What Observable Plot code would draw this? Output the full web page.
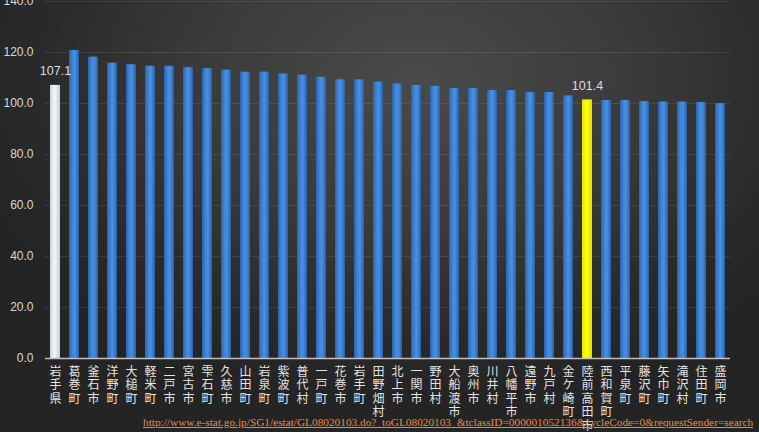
<!DOCTYPE html>
<html><head><meta charset="utf-8">
<script src="https://cdn.jsdelivr.net/npm/d3@7"></script>
<script src="https://cdn.jsdelivr.net/npm/@observablehq/plot@0.6"></script>
<style>
html,body{margin:0;padding:0;}
body{width:759px;height:432px;overflow:hidden;position:relative;
background:radial-gradient(ellipse 62% 75% at 55% 18%, #4a4a4a 0%, #3b3b3b 45%, #2a2a2a 80%, #242424 100%);}
#chart{position:absolute;left:0;top:0;}
#url{position:absolute;left:143px;top:416px;font-family:"Liberation Serif",serif;font-size:11.3px;color:#f0883a;text-decoration:underline;white-space:nowrap;}
</style></head>
<body>
<div id="chart"></div>
<div id="url">http://www.e-stat.go.jp/SG1/estat/GL08020103.do?_toGL08020103_&amp;tclassID=000001052136&amp;cycleCode=0&amp;requestSender=search</div>
<script>
const municipalities = ["岩手県","葛巻町","釜石市","洋野町","大槌町","軽米町","二戸市","宮古市","雫石町","久慈市","山田町","岩泉町","紫波町","普代村","一戸町","花巻市","岩手町","田野畑村","北上市","一関市","野田村","大船渡市","奥州市","川井村","八幡平市","遠野市","九戸村","金ケ崎町","陸前高田市","西和賀町","平泉町","藤沢町","矢巾町","滝沢村","住田町","盛岡市"];
const values = [107.1,120.8,118.2,115.8,115.2,114.6,114.6,114.1,113.7,113.1,112.3,112.3,111.6,111.1,110.3,109.3,109.3,108.4,107.7,107.1,106.7,105.9,105.9,105.1,105.1,104.3,104.3,103.0,101.4,101.2,101.2,100.8,100.6,100.6,100.4,99.9];
const yTicks = [0,20,40,60,80,100,120,140];
const prefecture = "岩手県";
const focusCity = "陸前高田市";
const labelled = [prefecture, focusCity];

const data = municipalities.map((name, i) => ({name, value: values[i]}));
const fillOf = d => d.name === prefecture ? "url(#gWhite)" : d.name === focusCity ? "url(#gYellow)" : "url(#gBlue)";

const chart = Plot.plot({
  width: 759,
  height: 432,
  marginTop: 1,
  marginBottom: 74,
  marginLeft: 45,
  marginRight: 29,
  style: {background: "transparent", color: "#d9d9d9", fontFamily: "'Liberation Sans', Arial, sans-serif", fontSize: "12px"},
  x: {domain: municipalities, paddingInner: 0.5, paddingOuter: 0.25, axis: null},
  y: {domain: [0, 140], ticks: yTicks, tickFormat: d => d.toFixed(1), tickSize: 0, tickPadding: 12, label: null},
  color: {type: "identity"},
  marks: [
    Plot.ruleY(yTicks.filter(t => t > 0), {stroke: "#ffffff", strokeOpacity: 0.09}),
    Plot.barY(data, {x: "name", y: "value", fill: fillOf}),
    Plot.ruleY([0], {stroke: "#bdbdbd", strokeWidth: 1.5}),
    Plot.text(data.filter(d => labelled.includes(d.name)), {x: "name", y: "value", text: d => d.value.toFixed(1), dy: -14, fill: "#dcdcdc", fontSize: 12.5}),
    Plot.text(municipalities, {x: d => d, y: 0, text: d => d.split("").join("\n"), lineAnchor: "top", dy: 8, lineHeight: 1.12, fill: "#e4e4e4", fontSize: 12, fontFamily: "'Noto Sans CJK JP', sans-serif"})
  ]
});

const defs = document.createElementNS("http://www.w3.org/2000/svg", "defs");
defs.innerHTML = `
<linearGradient id="gBlue" x1="0" x2="1" y1="0" y2="0">
  <stop offset="0" stop-color="#2b62ac"/><stop offset="0.35" stop-color="#3f86d8"/>
  <stop offset="0.6" stop-color="#4690e2"/><stop offset="1" stop-color="#2a5ea6"/>
</linearGradient>
<linearGradient id="gWhite" x1="0" x2="1" y1="0" y2="0">
  <stop offset="0" stop-color="#c8d2e0"/><stop offset="0.45" stop-color="#f4f7fc"/>
  <stop offset="1" stop-color="#c2ccda"/>
</linearGradient>
<linearGradient id="gYellow" x1="0" x2="1" y1="0" y2="0">
  <stop offset="0" stop-color="#e6e600"/><stop offset="0.45" stop-color="#ffff10"/>
  <stop offset="1" stop-color="#e0e000"/>
</linearGradient>`;
chart.insertBefore(defs, chart.firstChild);
document.getElementById("chart").appendChild(chart);
</script>
</body></html>
